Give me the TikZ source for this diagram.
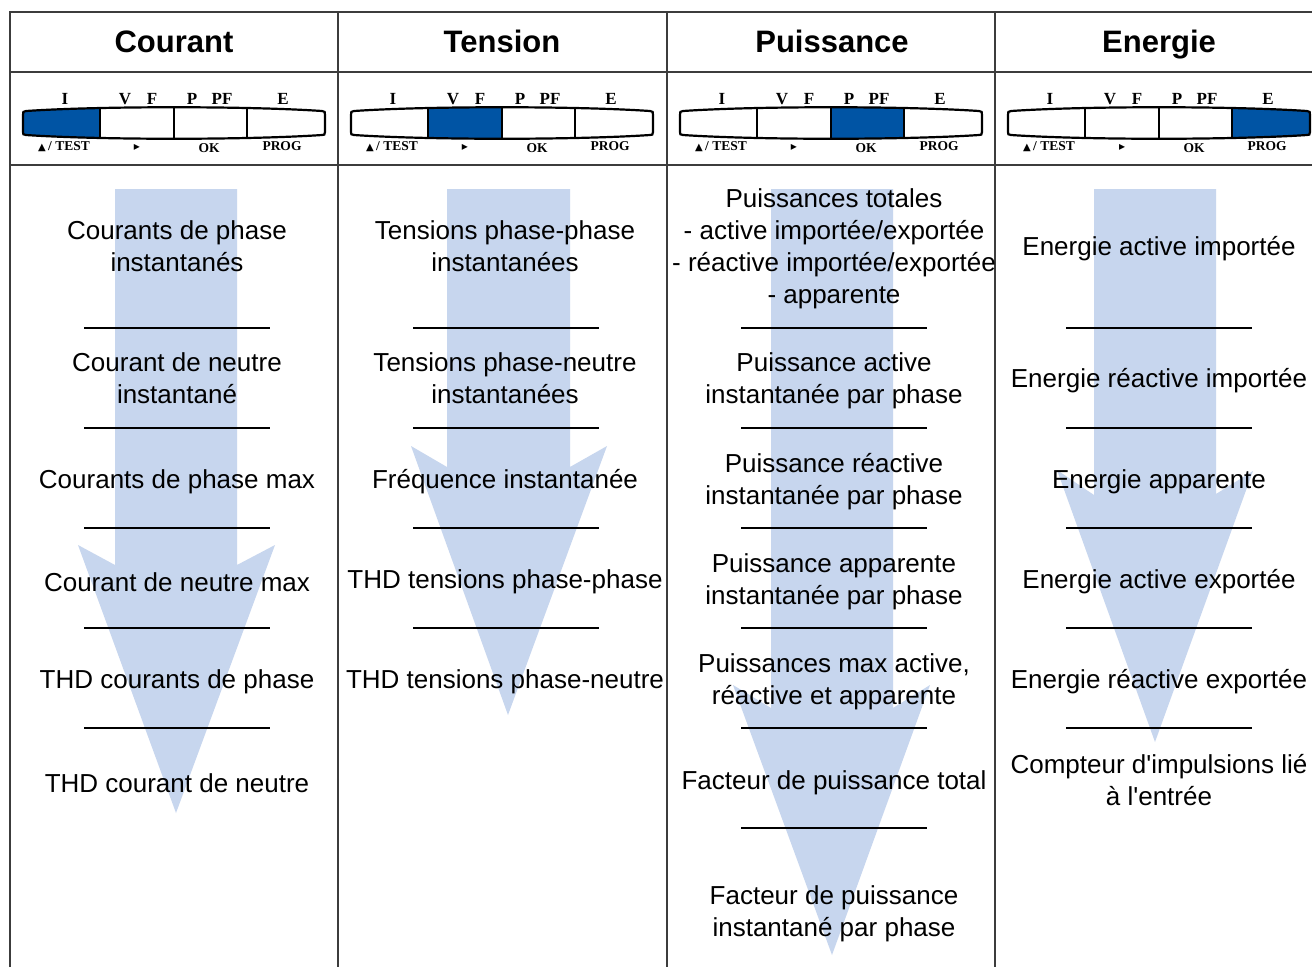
\documentclass[tikz,border=0pt]{standalone}
\usepackage{fontspec}
\setmainfont{Liberation Sans}[Ligatures=TeXOff]
\newfontfamily\btnfont{Liberation Serif}
\newfontfamily\symfont{DejaVu Sans}
\definecolor{arrowblue}{RGB}{199,214,238}
\definecolor{selblue}{RGB}{0,84,164}
\definecolor{gridgray}{RGB}{60,60,60}
\tikzset{
  body/.style={font=\fontsize{26}{32}\selectfont, align=center, text=black, inner sep=0pt},
  head/.style={font=\fontsize{31}{36}\selectfont\bfseries, inner sep=0pt, anchor=base},
  flow/.style={fill=arrowblue, draw=none},
  sepline/.style={line width=1.4pt, draw=black},
  gridline/.style={line width=1.3pt, draw=gridgray},
  toplab/.style={font=\btnfont\bfseries\fontsize{17}{17}\selectfont, anchor=base, inner sep=0pt},
  botlab/.style={font=\btnfont\bfseries\fontsize{13.5}{13.5}\selectfont, anchor=base, inner sep=0pt},
}
\newcommand\panelpath{(26,111) .. controls (100,106) and (248,106) .. (322,111) .. controls (325,111) and (325,112) .. (325,115) -- (325,132) .. controls (325,135) and (324,135) .. (322,135) .. controls (248,140) and (100,140) .. (26,135) .. controls (23,135) and (23,134) .. (23,132) -- (23,115) .. controls (23,112) and (23,111) .. (26,111) -- cycle}
\newcommand\btnpanel[4]{%
\begin{scope}[shift={(#1,0)}]
  \begin{scope}
    \clip \panelpath;
    \fill[selblue] (#2,100) rectangle (#3,145);
    \draw[line width=2.2pt] (100,100) -- (100,145) (174,100) -- (174,145) (247,100) -- (247,145);
  \end{scope}
  \draw[line width=2.2pt] \panelpath;
  \node[toplab] (#4i) at (65,104) {I};
  \node[toplab] (#4v) at (125,104) {V};
  \node[toplab] (#4f) at (152,104) {F};
  \node[toplab] (#4p) at (192,104) {P};
  \node[toplab] (#4pf) at (222,104) {PF};
  \node[toplab] (#4e) at (283,104) {E};
  \node[botlab] (#4test) at (64,150) {{\symfont\fontsize{10}{10}\selectfont ▲}\,/ TEST};
  \node[botlab] (#4right) at (137,150) {{\symfont\fontsize{12}{12}\selectfont ▸}};
  \node[botlab] (#4ok) at (209,152) {OK};
  \node[botlab] (#4prog) at (282,150) {PROG};
\end{scope}}
\begin{document}
\begin{tikzpicture}[x=1pt,y=-1pt]
\useasboundingbox (0,0) rectangle (1312,967);
\fill[white] (0,0) rectangle (1312,967);
% flow arrows
\fill[flow] (115,189) -- (237,189) -- (237,565) -- (275,545) -- (176,813) -- (78,545) -- (115,565) -- cycle;
\fill[flow] (447,189) -- (570,189) -- (570,467) -- (607,446) -- (508,715) -- (411,446) -- (447,467) -- cycle;
\fill[flow] (771,189) -- (893,189) -- (893,708) -- (930,685) -- (832,955) -- (733,685) -- (771,708) -- cycle;
\fill[flow] (1094,189) -- (1216,189) -- (1216,494) -- (1253,471) -- (1155,742) -- (1057,470) -- (1094,495) -- cycle;
% grid
\draw[gridline] (10,967) -- (10,12) -- (1312,12);
\draw[gridline] (10,72) -- (1312,72) (10,165) -- (1312,165);
\draw[gridline] (338,12) -- (338,967) (667,12) -- (667,967) (995,12) -- (995,967);
% headers
\node[head] (hc) at (174,52) {Courant};
\node[head] (ht) at (502,52) {Tension};
\node[head] (hp) at (832,52) {Puissance};
\node[head] (he) at (1159,52) {Energie};
% button panels
\btnpanel{0}{0}{100}{a}
\btnpanel{328}{100}{174}{b}
\btnpanel{657}{174}{247}{c}
\btnpanel{985}{247}{330}{d}
% separators
\foreach \y in {328,428,528,628,728} \draw[sepline] (84,\y) -- (270,\y);
\foreach \y in {328,428,528,628} \draw[sepline] (413,\y) -- (599,\y);
\foreach \y in {328,428,528,628,728,828} \draw[sepline] (741,\y) -- (927,\y);
\foreach \y in {328,428,528,628,728} \draw[sepline] (1066,\y) -- (1252,\y);
% Courant
\node[body] (c1) at (177,246) {Courants de phase\\instantanés};
\node[body] (c2) at (177,378) {Courant de neutre\\instantané};
\node[body] (c3) at (177,482) {Courants de phase max};
\node[body] (c4) at (177,582) {Courant de neutre max};
\node[body] (c5) at (177,682) {THD courants de phase};
\node[body] (c6) at (177,783) {THD courant de neutre};
% Tension
\node[body] (t1) at (505,246) {Tensions phase-phase\\instantanées};
\node[body] (t2) at (505,378) {Tensions phase-neutre\\instantanées};
\node[body] (t3) at (505,482) {Fréquence instantanée};
\node[body] (t4) at (505,582) {THD tensions phase-phase};
\node[body] (t5) at (505,682) {THD tensions phase-neutre};
% Puissance
\node[body] (p1) at (834,249) {Puissances totales\\- active importée/exportée\\- réactive importée/exportée\\- apparente};
\node[body] (p2) at (834,381) {Puissance active\\instantanée par phase};
\node[body] (p3) at (834,482) {Puissance réactive\\instantanée par phase};
\node[body] (p4) at (834,582) {Puissance apparente\\instantanée par phase};
\node[body] (p5) at (834,682) {Puissances max active,\\réactive et apparente};
\node[body] (p6) at (834,783) {Facteur de puissance total};
\node[body] (p7) at (834,914) {Facteur de puissance\\instantané par phase};
% Energie
\node[body] (e1) at (1159,249) {Energie active importée};
\node[body] (e2) at (1159,381) {Energie réactive importée};
\node[body] (e3) at (1159,482) {Energie apparente};
\node[body] (e4) at (1159,582) {Energie active exportée};
\node[body] (e5) at (1159,682) {Energie réactive exportée};
\node[body] (e6) at (1159,780) {Compteur d'impulsions lié\\à l'entrée};
\end{tikzpicture}
\end{document}
